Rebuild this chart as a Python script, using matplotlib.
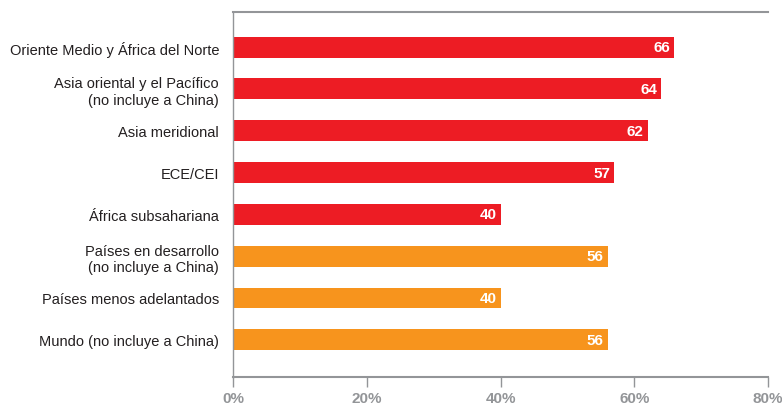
import matplotlib.pyplot as plt
from matplotlib.ticker import FuncFormatter

regions = [
    "Oriente Medio y África del Norte",
    "Asia oriental y el Pacífico\n(no incluye a China)",
    "Asia meridional",
    "ECE/CEI",
    "África subsahariana",
    "Países en desarrollo\n(no incluye a China)",
    "Países menos adelantados",
    "Mundo (no incluye a China)",
]
values = [66, 64, 62, 57, 40, 56, 40, 56]
groups = ["region"] * 5 + ["agregado"] * 3

RED = "#ED1C24"
ORANGE = "#F7941D"
GREY = "#939598"

plt.rcParams["font.family"] = ["Liberation Sans Narrow", "Liberation Sans", "DejaVu Sans"]

fig = plt.figure(figsize=(7.82, 4.06), dpi=100)
ax = fig.add_axes([233 / 782, 1 - 378 / 406, 535 / 782, 365 / 406])

colors = [RED if g == "region" else ORANGE for g in groups]
ypos = list(range(len(regions)))
ax.barh(ypos, values, height=0.5, color=colors)

for y, v in zip(ypos, values):
    ax.text(v - 0.6, y, str(v), ha="right", va="center", color="white",
            fontsize=11, fontweight="bold")

ax.set_yticks(ypos)
ax.set_yticklabels(regions, fontsize=10.5, color="#231F20")
ax.set_ylim(len(regions) - 1 + 0.89, -0.84)
ax.set_xlim(0, 80)
ax.set_xticks([0, 20, 40, 60, 80])
ax.xaxis.set_major_formatter(FuncFormatter(lambda x, _: f"{x:.0f}%"))
for lbl in ax.get_xticklabels():
    lbl.set_fontweight("bold")
    lbl.set_color(GREY)
    lbl.set_fontsize(11)

ax.tick_params(axis="y", length=0, pad=10)
ax.tick_params(axis="x", length=7, width=1, color=GREY, pad=3)

for side in ["left", "top", "bottom"]:
    ax.spines[side].set_color(GREY)
    ax.spines[side].set_linewidth(1.5)
ax.spines["left"].set_linewidth(1)
ax.spines["right"].set_visible(False)

plt.savefig("out.png", dpi=100)
